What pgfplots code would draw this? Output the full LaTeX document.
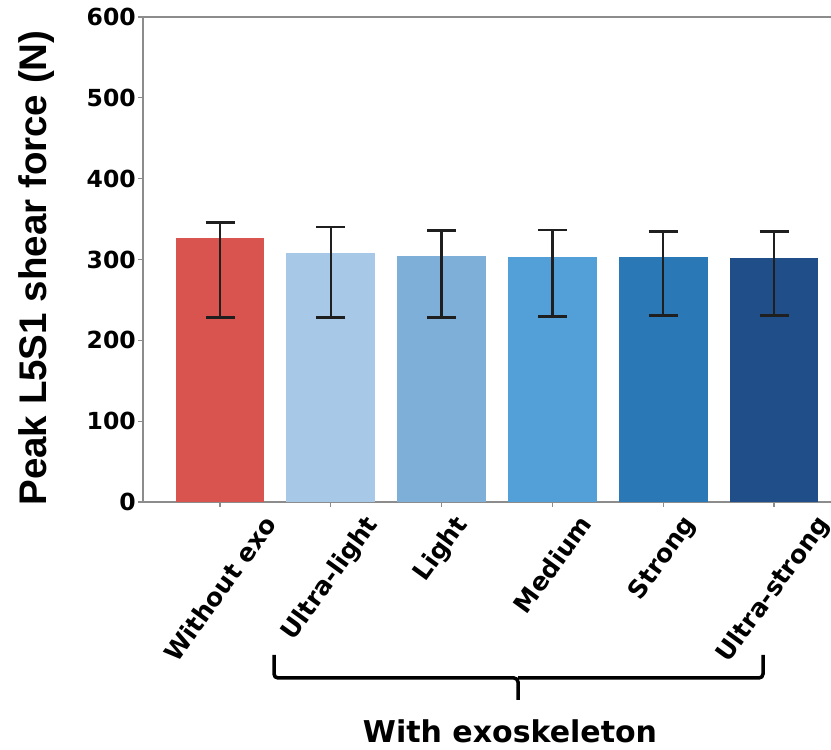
\documentclass[border=0pt]{standalone}
\usepackage{fontspec}
\setmainfont{DejaVu Sans}
\newfontfamily\labfont{Liberation Sans}
\usepackage{pgfplots}
\usepackage{pgfplotstable}
\pgfplotsset{compat=1.18}
\definecolor{cred}{HTML}{D9534F}
\definecolor{cul}{HTML}{A7C8E6}
\definecolor{cl}{HTML}{7DAFD8}
\definecolor{cm}{HTML}{539FD8}
\definecolor{cs}{HTML}{2A78B6}
\definecolor{cus}{HTML}{1F4E89}
\definecolor{spine}{HTML}{8C8C8C}
\pgfplotstableread{
x y ep em
0 326.2 19.8 97.7
1 307.6 32.6 79.1
2 304.7 31.0 76.2
3 302.7 33.5 73.0
4 303.1 31.8 72.1
5 302.3 32.1 71.3
}\datatable
\begin{document}
\begin{tikzpicture}[x=1pt,y=1pt]
\begin{axis}[
  at={(143pt,248pt)}, anchor=south west,
  scale only axis, width=708pt, height=485pt,
  xmin=-0.695, xmax=5.695, ymin=0, ymax=600,
  axis x line*=box, axis y line*=left,
  axis line style={spine, line width=1.5pt},
  ytick={0,100,...,600},
  xtick={0,1,2,3,4,5},
  xtick pos=left, ytick pos=left,
  tick align=outside,
  major tick length=5pt,
  tick style={spine, line width=1.2pt},
  /pgf/number format/assume math mode=true,
  yticklabel style={font=\bfseries\fontsize{23.5}{23.5}\selectfont, inner sep=0pt, xshift=-2pt},
  xticklabel style={font=\bfseries\fontsize{25}{25}\selectfont, anchor=north, inner sep=0pt, yshift=-6pt},
  xticklabels={\rotatebox{54}{Without exo},\rotatebox{54}{Ultra-light},\rotatebox{54}{Light},\rotatebox{54}{Medium},\rotatebox{54}{Strong},\rotatebox{54}{Ultra-strong}},
  ybar, bar width=0.8, bar shift=0pt,
  error bars/y dir=both, error bars/y explicit,
  error bars/error bar style={line width=2.5pt, black!88},
  error bars/error mark options={rotate=90, mark size=14.5pt, line width=2.5pt, black!88},
  clip=false,
]
\addplot[fill=cred, draw=none] table[x=x, y=y, y error plus=ep, y error minus=em, restrict expr to domain={\coordindex}{0:0}] {\datatable};
\addplot[fill=cul, draw=none] table[x=x, y=y, y error plus=ep, y error minus=em, restrict expr to domain={\coordindex}{1:1}] {\datatable};
\addplot[fill=cl, draw=none] table[x=x, y=y, y error plus=ep, y error minus=em, restrict expr to domain={\coordindex}{2:2}] {\datatable};
\addplot[fill=cm, draw=none] table[x=x, y=y, y error plus=ep, y error minus=em, restrict expr to domain={\coordindex}{3:3}] {\datatable};
\addplot[fill=cs, draw=none] table[x=x, y=y, y error plus=ep, y error minus=em, restrict expr to domain={\coordindex}{4:4}] {\datatable};
\addplot[fill=cus, draw=none] table[x=x, y=y, y error plus=ep, y error minus=em, restrict expr to domain={\coordindex}{5:5}] {\datatable};
\end{axis}
\node[rotate=90, font=\labfont\bfseries\fontsize{38.5}{38.5}\selectfont] at (37,482) {Peak L5S1 shear force (N)};
\draw[line width=3.5pt, rounded corners=4pt] (274,95) -- (274,72) -- (518,72) -- (518,50);
\draw[line width=3.5pt, rounded corners=4pt] (763,95) -- (763,72) -- (518,72);
\node[font=\bfseries\fontsize{30}{30}\selectfont] at (510,19) {With exoskeleton};
\pgfresetboundingbox
\path[use as bounding box] (0,0) rectangle (831,750);
\end{tikzpicture}
\end{document}
